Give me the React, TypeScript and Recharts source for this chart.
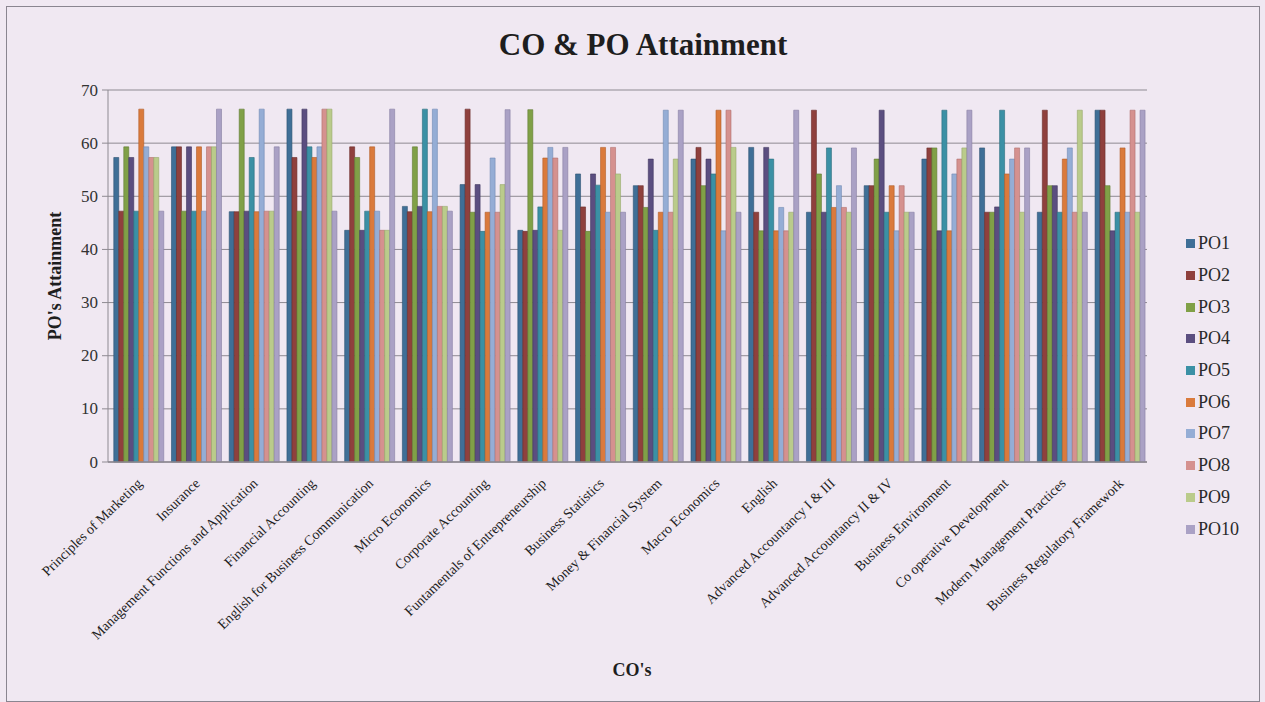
import { Bar, BarChart, CartesianGrid, XAxis, YAxis } from "recharts";

const SERIF = '"Liberation Serif", "Times New Roman", serif';
const BG = "#f0e8f2";
const GRID = "#8e8a92";
const TEXT = "#1e1e1e";

const COURSES = [
  "Principles of Marketing",
  "Insurance",
  "Management Functions and Application",
  "Financial Accounting",
  "English for Business Communication",
  "Micro Economics",
  "Corporate Accounting",
  "Funtamentals of Entrepreneurship",
  "Business Statistics",
  "Money & Financial System",
  "Macro Economics",
  "English",
  "Advanced Accountancy I & III",
  "Advanced Accountancy II & IV",
  "Business Environment",
  "Co operative Development",
  "Modern Management Practices",
  "Business Regulatory Framework",
];

const PO1 = [57.3, 59.3, 47.1, 66.4, 43.6, 48.1, 52.2, 43.6, 54.2, 52.0, 57.0, 59.2, 47.0, 52.0, 57.0, 59.1, 47.0, 66.2];
const PO2 = [47.2, 59.3, 47.1, 57.3, 59.3, 47.1, 66.4, 43.4, 48.0, 52.0, 59.2, 47.0, 66.2, 52.0, 59.1, 47.0, 66.2, 66.2];
const PO3 = [59.3, 47.2, 66.4, 47.2, 57.3, 59.3, 47.0, 66.3, 43.4, 47.9, 52.0, 43.5, 54.2, 57.0, 59.1, 47.0, 52.0, 52.0];
const PO4 = [57.3, 59.3, 47.2, 66.4, 43.6, 48.1, 52.2, 43.6, 54.2, 57.0, 57.0, 59.2, 47.0, 66.2, 43.5, 48.0, 52.0, 43.5];
const PO5 = [47.2, 47.2, 57.3, 59.3, 47.2, 66.4, 43.4, 48.0, 52.1, 43.6, 54.2, 57.0, 59.1, 47.0, 66.2, 66.2, 47.0, 47.0];
const PO6 = [66.4, 59.3, 47.1, 57.3, 59.3, 47.1, 47.0, 57.2, 59.2, 47.0, 66.2, 43.5, 47.9, 52.0, 43.5, 54.2, 57.0, 59.1];
const PO7 = [59.3, 47.2, 66.4, 59.3, 47.2, 66.4, 57.2, 59.2, 47.0, 66.2, 43.5, 47.9, 52.0, 43.5, 54.2, 57.0, 59.1, 47.0];
const PO8 = [57.3, 59.3, 47.2, 66.4, 43.6, 48.1, 47.0, 57.2, 59.2, 47.0, 66.2, 43.5, 47.9, 52.0, 57.0, 59.1, 47.0, 66.2];
const PO9 = [57.3, 59.3, 47.2, 66.4, 43.6, 48.1, 52.2, 43.6, 54.2, 57.0, 59.2, 47.0, 47.0, 47.0, 59.1, 47.0, 66.2, 47.0];
const PO10 = [47.2, 66.4, 59.3, 47.2, 66.4, 47.2, 66.3, 59.2, 47.0, 66.2, 47.0, 66.2, 59.1, 47.0, 66.2, 59.1, 47.0, 66.2];

const Y_TICKS = [0, 10, 20, 30, 40, 50, 60, 70];

const SERIES = [
  { key: "PO1", values: PO1, color: "#3f6f97", edge: "#2c5070" },
  { key: "PO2", values: PO2, color: "#8f403d", edge: "#6a2c2a" },
  { key: "PO3", values: PO3, color: "#80a047", edge: "#5f7a32" },
  { key: "PO4", values: PO4, color: "#5b4e80", edge: "#40365e" },
  { key: "PO5", values: PO5, color: "#3b90a5", edge: "#2a6b7c" },
  { key: "PO6", values: PO6, color: "#da7a3c", edge: "#b05c26" },
  { key: "PO7", values: PO7, color: "#95add5", edge: "#7189b3" },
  { key: "PO8", values: PO8, color: "#d5918f", edge: "#b06e6c" },
  { key: "PO9", values: PO9, color: "#bacb8b", edge: "#97a86a" },
  { key: "PO10", values: PO10, color: "#aaa1c5", edge: "#877ea3" },
];

const data = COURSES.map((name, i) => {
  const row: Record<string, string | number> = { name };
  SERIES.forEach((s) => {
    row[s.key] = s.values[i];
  });
  return row;
});

function CourseTick({ x, y, payload }: { x?: number; y?: number; payload?: { value: string } }) {
  const tx = (x || 0) + 4;
  const ty = (y || 0) + 12;
  return (
    <text
      x={tx}
      y={ty}
      transform={`rotate(-44, ${tx}, ${ty})`}
      textAnchor="end"
      dominantBaseline="middle"
      fontFamily={SERIF}
      fontSize={14}
      fill={TEXT}
    >
      {payload?.value}
    </text>
  );
}

function ValueTick({ x, y, payload }: { x?: number; y?: number; payload?: { value: number } }) {
  return (
    <text
      x={(x || 0) - 2}
      y={y}
      textAnchor="end"
      dominantBaseline="central"
      fontFamily={SERIF}
      fontSize={17}
      fill="#333"
    >
      {payload?.value}
    </text>
  );
}

export default function App() {
  return (
    <div
      style={{
        position: "fixed",
        left: 0,
        top: 0,
        width: 1265,
        height: 702,
        background: BG,
        fontFamily: SERIF,
        color: TEXT,
      }}
    >
      <div
        style={{
          position: "absolute",
          left: 6,
          top: 6,
          width: 1252,
          height: 694,
          border: "1px solid #8a8590",
        }}
      />
      <div
        style={{
          position: "absolute",
          left: 643,
          top: 45,
          transform: "translate(-50%, -50%)",
          fontSize: 31,
          fontWeight: "bold",
          whiteSpace: "nowrap",
          fontFamily: SERIF,
        }}
      >
        CO &amp; PO Attainment
      </div>
      <div
        style={{
          position: "absolute",
          left: 55,
          top: 276,
          transform: "translate(-50%, -50%) rotate(-90deg)",
          fontSize: 18,
          fontWeight: "bold",
          whiteSpace: "nowrap",
          fontFamily: SERIF,
        }}
      >
        PO's Attainment
      </div>
      <div
        style={{
          position: "absolute",
          left: 632,
          top: 670,
          transform: "translate(-50%, -50%)",
          fontSize: 18,
          fontWeight: "bold",
          fontFamily: SERIF,
        }}
      >
        CO's
      </div>

      <div style={{ position: "absolute", left: 0, top: 0 }}>
        <BarChart
          width={1265}
          height={702}
          data={data}
          margin={{ top: 90, right: 118, bottom: 90, left: 58 }}
          barCategoryGap="10%"
          barGap={0}
          style={{ fontFamily: SERIF }}
        >
          <CartesianGrid stroke={GRID} vertical={false} />
          <XAxis
            dataKey="name"
            interval={0}
            height={150}
            tick={<CourseTick />}
            tickLine={false}
            axisLine={{ stroke: GRID, strokeWidth: 1.5 }}
          />
          <YAxis
            domain={[0, 70]}
            ticks={Y_TICKS}
            width={50}
            tick={<ValueTick />}
            tickLine={{ stroke: GRID }}
            tickSize={6}
            axisLine={{ stroke: GRID }}
          />
          {SERIES.map((s) => (
            <Bar
              key={s.key}
              dataKey={s.key}
              fill={s.color}
              stroke={s.edge}
              strokeWidth={0.6}
              isAnimationActive={false}
            />
          ))}
        </BarChart>
      </div>

      <div style={{ position: "absolute", left: 1186, top: 228, fontFamily: SERIF }}>
        {SERIES.map((s) => (
          <div
            key={s.key}
            style={{
              display: "flex",
              alignItems: "center",
              height: 31.7,
              fontSize: 18,
              fontFamily: SERIF,
              color: "#2a2a2a",
            }}
          >
            <span
              style={{
                display: "inline-block",
                width: 9,
                height: 9,
                background: s.color,
                marginRight: 3,
              }}
            />
            {s.key}
          </div>
        ))}
      </div>
    </div>
  );
}
